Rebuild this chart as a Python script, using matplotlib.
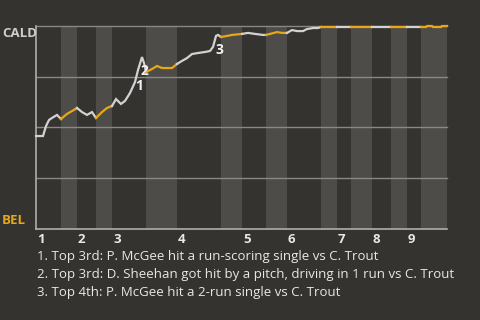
import matplotlib
matplotlib.use("Agg")
import matplotlib.pyplot as plt

# ---- data ----
team_top = "CALD"
team_bottom = "BEL"
# half-inning boundaries in game-progress units (plays)
half_bounds = [0.0, 5.0, 8.2, 12.0, 15.2, 22.0, 28.2, 37.0, 41.2, 46.0, 50.2,
               57.0, 60.2, 63.0, 67.2, 71.0, 74.2, 77.0, 82.2]
inning_labels = ["1", "2", "3", "4", "5", "6", "7", "8", "9"]

# win probability for CALD (%) at each play position
play_x = [0.0, 1.4, 2.0, 2.6, 3.2, 4.2, 4.6, 5.0, 6.2, 7.2, 8.2, 9.2, 10.2, 11.2,
          12.0, 13.2, 14.2, 15.2, 16.0, 17.0, 17.8, 18.8, 19.8, 20.4, 21.2, 21.6,
          22.0, 23.2, 24.2, 25.2, 27.2, 28.2, 29.2, 30.2, 31.2, 32.4, 33.8, 34.8,
          35.4, 36.0, 36.4, 37.0, 38.2, 39.2, 41.2, 42.4, 43.8, 45.4, 46.0, 46.8,
          48.2, 49.2, 50.2, 51.2, 52.2, 53.4, 54.2, 55.4, 56.4, 57.0, 60.2, 63.0,
          67.2, 71.0, 74.2, 77.0, 78.0, 78.2, 79.2, 79.4, 81.0, 81.2, 82.2]
win_prob = [45.8, 45.8, 50.7, 53.7, 54.7, 56.2, 55.2, 54.2, 56.7, 58.1, 59.6, 57.6,
            56.2, 57.6, 54.7, 57.6, 59.6, 60.6, 64.0, 61.6, 63.1, 67.0, 72.4, 78.3,
            84.7, 81.8, 77.3, 78.8, 80.3, 79.3, 79.3, 81.3, 82.8, 84.2, 86.2, 86.7,
            87.2, 87.7, 89.7, 95.1, 95.6, 94.6, 95.1, 95.6, 96.1, 96.6, 96.1, 95.6,
            95.6, 96.1, 97.0, 96.6, 96.6, 98.0, 97.5, 97.5, 98.5, 99.0, 99.0, 99.5,
            99.5, 99.5, 99.5, 99.5, 99.5, 99.5, 99.5, 100.0, 100.0, 99.5, 99.5,
            100.0, 100.0]

event_ids = ["1", "2", "3"]
event_x = [20.6, 21.6, 36.6]
event_wp = [70.4, 77.8, 88.2]
event_texts = [
    "1. Top 3rd: P. McGee hit a run-scoring single vs C. Trout",
    "2. Top 3rd: D. Sheehan got hit by a pitch, driving in 1 run vs C. Trout",
    "3. Top 4th: P. McGee hit a 2-run single vs C. Trout",
]

# ---- style ----
BG = "#353330"
BAND = "#4e4c49"
GRID = "#8a8884"
SPINE = "#b0aeaa"
LINE_TOP = "#d2d2d2"
LINE_BOT = "#e6a817"
TEXT = "#e8e8e8"
FONT = "Open Sans"

W, H = 480, 320
fig = plt.figure(figsize=(4.8, 3.2), dpi=100, facecolor=BG)
ax = fig.add_axes([36/W, 1-229/H, 411/W, 203/H])
ax.set_facecolor(BG)
ax.set_xlim(half_bounds[0], half_bounds[-1])
ax.set_ylim(0, 100)

# bottom-half shading
for i in range(1, len(half_bounds) - 1, 2):
    ax.axvspan(half_bounds[i], half_bounds[i+1], color=BAND, lw=0, zorder=0)

for g in [25, 50, 75, 100]:
    ax.axhline(g, color=GRID, lw=1.0, zorder=1, clip_on=False)

for s in ["top", "right"]:
    ax.spines[s].set_visible(False)
for s in ["left", "bottom"]:
    ax.spines[s].set_color(SPINE)
    ax.spines[s].set_linewidth(1.2)
ax.set_xticks([])
ax.set_yticks([])

# line, colored by half inning
for i in range(len(half_bounds) - 1):
    a, b = half_bounds[i], half_bounds[i+1]
    xs = [x for x in play_x if a - 1e-9 <= x <= b + 1e-9]
    ys = [y for x, y in zip(play_x, win_prob) if a - 1e-9 <= x <= b + 1e-9]
    ax.plot(xs, ys, color=LINE_TOP if i % 2 == 0 else LINE_BOT, lw=1.6,
            zorder=3, clip_on=False, solid_joinstyle="miter")

for lab, x, y in zip(event_ids, event_x, event_wp):
    ax.text(x, y, lab, color="#f0f0f0", fontsize=10, fontweight="bold",
            family=FONT, ha="center", va="center", zorder=4)

# inning labels
for k, lab in enumerate(inning_labels):
    ax.text(half_bounds[2*k] + 0.2, -7.0, lab, color=TEXT, fontsize=9.5,
            fontweight="bold", family=FONT, ha="left", va="baseline")

# team labels
fig.text(2/W, 1-27/H, team_top, color="#cfcfcf", fontsize=9.5,
         fontweight="bold", family=FONT, ha="left", va="top")
fig.text(2/W, 1-227/H, team_bottom, color=LINE_BOT, fontsize=9.5,
         fontweight="bold", family=FONT, ha="left", va="bottom")

for j, t in enumerate(event_texts):
    fig.text(37/W, 1-(260+18*j)/H, t, color=TEXT, fontsize=9.5,
             family=FONT, ha="left", va="baseline")

fig.savefig("out.png", dpi=100, facecolor=BG)
